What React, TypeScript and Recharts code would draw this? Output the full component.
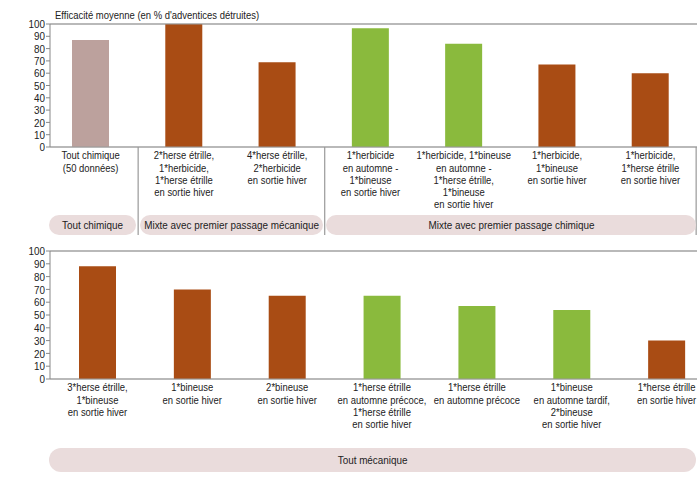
import { BarChart, Bar, Cell, XAxis, YAxis, CartesianGrid, ReferenceLine } from 'recharts';

const FONT = '"Liberation Sans", Arial, sans-serif';
const SQUEEZE = 0.86;

const yTicks = [0, 10, 20, 30, 40, 50, 60, 70, 80, 90, 100];

const topLabels = [
  'Tout chimique\n(50 données)',
  '2*herse étrille,\n1*herbicide,\n1*herse étrille\nen sortie hiver',
  '4*herse étrille,\n2*herbicide\nen sortie hiver',
  '1*herbicide\nen automne -\n1*bineuse\nen sortie hiver',
  '1*herbicide, 1*bineuse\nen automne -\n1*herse étrille,\n1*bineuse\nen sortie hiver',
  '1*herbicide,\n1*bineuse\nen sortie hiver',
  '1*herbicide,\n1*herse étrille\nen sortie hiver',
];
const topValues = [87, 100, 69, 96.5, 84, 67, 60];
const topKinds = ['chem', 'brown', 'brown', 'green', 'green', 'brown', 'brown'];
const topGroups = ['Tout chimique', 'Mixte avec premier passage mécanique', 'Mixte avec premier passage chimique'];
const topGroupSizes = [1, 2, 4];

const bottomLabels = [
  '3*herse étrille,\n1*bineuse\nen sortie hiver',
  '1*bineuse\nen sortie hiver',
  '2*bineuse\nen sortie hiver',
  '1*herse étrille\nen automne précoce,\n1*herse étrille\nen sortie hiver',
  '1*herse étrille\nen automne précoce',
  '1*bineuse\nen automne tardif,\n2*bineuse\nen sortie hiver',
  '1*herse étrille\nen sortie hiver',
];
const bottomValues = [88, 70, 65, 65, 57, 54, 30];
const bottomKinds = ['brown', 'brown', 'brown', 'green', 'green', 'green', 'brown'];
const bottomGroups = ['Tout mécanique'];
const bottomGroupSizes = [7];

const COLORS: Record<string, string> = {
  chem: '#bca19d',
  brown: '#a94c14',
  green: '#8aba3d',
};

const W = 700;
const PLOT_LEFT = 50;
const PLOT_RIGHT = 697;
const PILL = '#eadcdc';

type TickProps = {
  x?: number;
  y?: number;
  payload?: { value: string; index: number };
  band: number;
  seps: number[];
  sepLen: number;
  lastEdge?: boolean;
  count: number;
};

function MultiTick({ x = 0, y = 0, payload, band, seps, sepLen, lastEdge, count }: TickProps) {
  const lines = String(payload?.value ?? '').split('\n');
  const idx = payload?.index ?? 0;
  return (
    <g>
      {seps.includes(idx) && (
        <line x1={x - band / 2} x2={x - band / 2} y1={y} y2={y + sepLen} stroke="#999" strokeWidth={1.2} />
      )}
      {lastEdge && idx === count - 1 && (
        <line x1={x + band / 2} x2={x + band / 2} y1={y} y2={y + sepLen} stroke="#999" strokeWidth={1.2} />
      )}
      <text
        transform={`translate(${x},${y + 12.3}) scale(${SQUEEZE},1)`}
        textAnchor="middle"
        fontSize={11}
        fill="#222"
        fontFamily={FONT}
      >
        {lines.map((l, i) => (
          <tspan key={i} x={0} dy={i === 0 ? 0 : 12.3}>
            {l}
          </tspan>
        ))}
      </text>
    </g>
  );
}

function ValueTick({ x = 0, y = 0, payload }: { x?: number; y?: number; payload?: { value: number } }) {
  return (
    <text
      transform={`translate(${x},${y}) scale(${SQUEEZE},1)`}
      textAnchor="end"
      dy="0.36em"
      fontSize={11.5}
      fill="#222"
      fontFamily={FONT}
    >
      {payload?.value}
    </text>
  );
}

function Pills({ groups, sizes, rangeLeft, band, top, height }: {
  groups: string[];
  sizes: number[];
  rangeLeft: number;
  band: number;
  top: number;
  height: number;
}) {
  let start = 0;
  return (
    <>
      {groups.map((g, i) => {
        const x0 = rangeLeft + start * band;
        const x1 = rangeLeft + (start + sizes[i]) * band;
        const left = Math.max(x0, PLOT_LEFT) + (start > 0 ? 2.5 : -1);
        const right = Math.min(x1, PLOT_RIGHT) - 1;
        start += sizes[i];
        return (
          <div
            key={g}
            style={{
              position: 'absolute',
              left,
              top,
              width: right - left,
              height,
              display: 'flex',
              alignItems: 'center',
              justifyContent: 'center',
              background: PILL,
              borderRadius: height / 2,
              fontSize: 11.5,
              color: '#222',
              fontFamily: FONT,
              whiteSpace: 'nowrap',
            }}
          >
            <span style={{ flex: 'none', transform: `scaleX(${SQUEEZE})`, transformOrigin: 'center' }}>{g}</span>
          </div>
        );
      })}
    </>
  );
}

function Panel({ labels, values, kinds, top, marginTop, axisHeight, padLeft, padRight, seps, sepLen, lastEdge }: {
  labels: string[];
  values: number[];
  kinds: string[];
  top: number;
  marginTop: number;
  axisHeight: number;
  padLeft: number;
  padRight: number;
  seps: number[];
  sepLen: number;
  lastEdge: boolean;
}) {
  const data = labels.map((name, i) => ({ name, value: values[i] }));
  const band = (PLOT_RIGHT + padRight - (PLOT_LEFT - padLeft)) / labels.length;
  return (
    <div style={{ position: 'absolute', left: 0, top }}>
      <BarChart width={W} height={240} data={data} margin={{ top: marginTop, right: W - PLOT_RIGHT, bottom: 5, left: 0 }}>
        <CartesianGrid vertical={false} stroke="#cccccc" strokeWidth={1.5} />
        <XAxis
          dataKey="name"
          interval={0}
          height={axisHeight}
          padding={{ left: padLeft, right: padRight }}
          tickLine={false}
          tickSize={0}
          tickMargin={0}
          axisLine={{ stroke: '#999' }}
          tick={<MultiTick band={band} seps={seps} sepLen={sepLen} lastEdge={lastEdge} count={labels.length} />}
        />
        <YAxis
          yAxisId="l"
          width={PLOT_LEFT}
          domain={[0, 100]}
          ticks={yTicks}
          interval={0}
          tickSize={4}
          tickMargin={1}
          tickLine={{ stroke: '#888' }}
          axisLine={{ stroke: '#888' }}
          tick={<ValueTick />}
        />
        <YAxis yAxisId="r" orientation="right" width={0} domain={[0, 100]} tick={false} tickLine={false} axisLine={{ stroke: '#999' }} />
        <ReferenceLine yAxisId="l" y={100} stroke="#999" strokeWidth={1.2} />
        <Bar yAxisId="l" dataKey="value" barSize={37} isAnimationActive={false}>
          {data.map((_, i) => (
            <Cell key={i} fill={COLORS[kinds[i]]} />
          ))}
        </Bar>
      </BarChart>
    </div>
  );
}

export default function App() {
  const topPadLeft = 6;
  const topBand = (PLOT_RIGHT - (PLOT_LEFT - topPadLeft)) / topLabels.length;
  const botPadRight = 17;
  const botBand = (PLOT_RIGHT + botPadRight - PLOT_LEFT) / bottomLabels.length;
  return (
    <div
      style={{
        position: 'absolute',
        left: 0,
        top: 0,
        width: W,
        height: 480,
        overflow: 'hidden',
        background: '#fff',
        fontFamily: FONT,
      }}
    >
      <div
        style={{
          position: 'absolute',
          left: 55,
          top: 9,
          fontSize: 11,
          color: '#222',
          whiteSpace: 'nowrap',
          lineHeight: '12px',
          transform: `scaleX(${SQUEEZE})`,
          transformOrigin: 'left center',
        }}
      >
        Efficacité moyenne (en % d'adventices détruites)
      </div>
      <Panel
        labels={topLabels}
        values={topValues}
        kinds={topKinds}
        top={0}
        marginTop={24}
        axisHeight={88}
        padLeft={-topPadLeft}
        padRight={0}
        seps={[1, 3]}
        sepLen={88}
        lastEdge
      />
      <Pills groups={topGroups} sizes={topGroupSizes} rangeLeft={PLOT_LEFT - topPadLeft} band={topBand} top={215} height={20} />
      <Panel
        labels={bottomLabels}
        values={bottomValues}
        kinds={bottomKinds}
        top={240}
        marginTop={11}
        axisHeight={96}
        padLeft={0}
        padRight={-botPadRight}
        seps={[]}
        sepLen={0}
        lastEdge={false}
      />
      <Pills groups={bottomGroups} sizes={bottomGroupSizes} rangeLeft={PLOT_LEFT} band={botBand} top={448} height={24} />
    </div>
  );
}
